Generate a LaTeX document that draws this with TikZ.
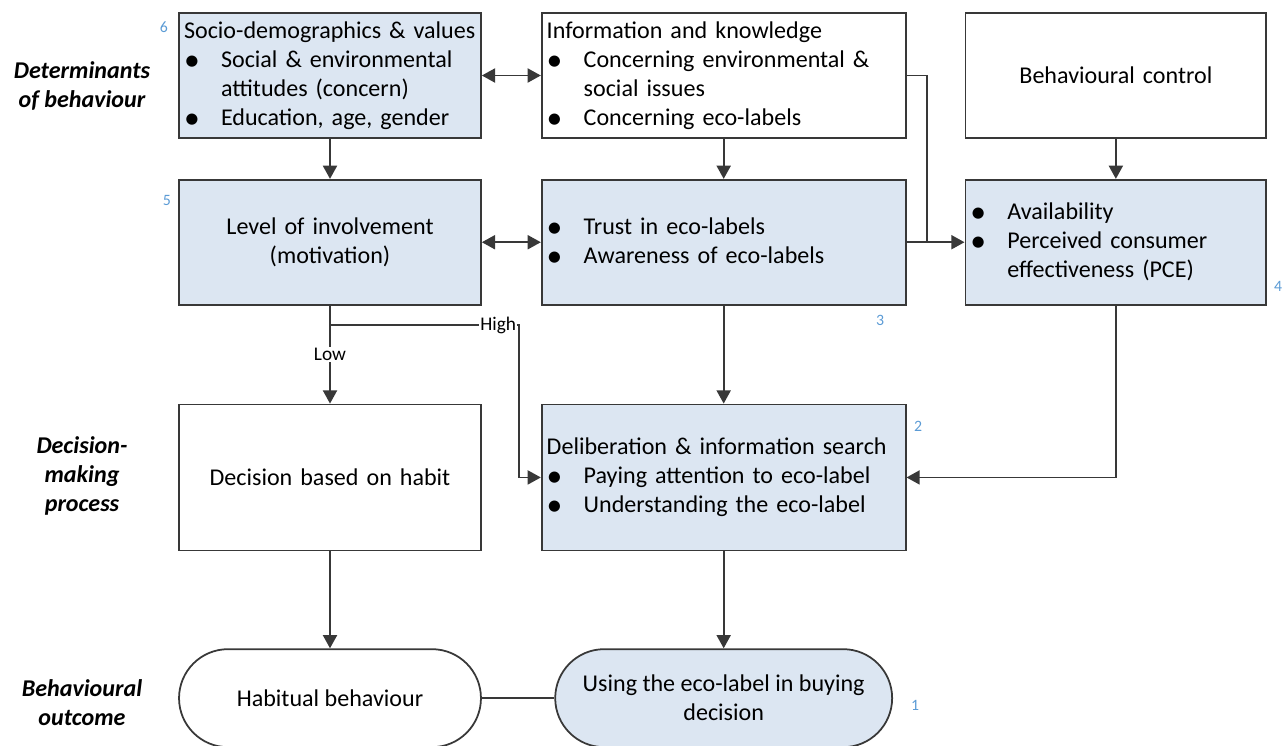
\documentclass[tikz,border=0pt]{standalone}
\usepackage{fontspec}
\setmainfont{Carlito}
\usepackage{xcolor}
\definecolor{boxblue}{RGB}{220,230,242}
\definecolor{edgegray}{RGB}{56,56,56}
\definecolor{numblue}{RGB}{91,155,213}
\usetikzlibrary{arrows.meta, positioning}
\newcommand{\itm}{\makebox[0.74cm][l]{\raisebox{-0.25ex}{\fontsize{18}{16}\selectfont\textbullet}}}
\newcommand{\ind}{\hspace*{0.74cm}}

\begin{document}
\begin{tikzpicture}[x=0.02cm, y=-0.02cm,
        base/.style={rectangle, draw=edgegray, line width=1pt, inner sep=0.1cm, minimum height=2.5cm, font=\fontsize{13.7}{16.5}\selectfont},
        bluebox/.style={base, fill=boxblue},
        whitebox/.style={base, fill=white},
        narrow/.style={text width=5.84cm},
        wide/.style={text width=7.08cm},
        endbox/.style={base, rounded corners=0.98cm, minimum height=1.96cm, align=center},
        sect/.style={font=\fontsize{13.7}{16.5}\selectfont\bfseries\itshape, align=center},
        num/.style={font=\fontsize{9}{9}\selectfont, text=numblue},
        lbl/.style={font=\fontsize{11}{11}\selectfont, fill=white, inner sep=0.5pt},
        line/.style={draw=edgegray, line width=1pt, -{Triangle[length=7.5pt, width=8pt]}},
        twoway/.style={line, {Triangle[length=7.5pt, width=8pt]}-{Triangle[length=7.5pt, width=8pt]}},
        plain/.style={draw=edgegray, line width=1pt}]

        \useasboundingbox (0,0) rectangle (1288,745);

        % row labels
        \node [sect] (lab1) at (82,86) {Determinants\\of behaviour};
        \node [sect] (lab2) at (82,476) {Decision-\\making\\process};
        \node [sect] (lab3) at (82,703) {Behavioural\\outcome};

        % determinants
        \node [bluebox, narrow, align=left] (socio) at (330,75.5) {Socio-demographics \& values\\\itm Social \& environmental\\\ind attitudes (concern)\\\itm Education, age, gender};
        \node [whitebox, wide, align=left, right=1.18cm of socio] (info) {Information and knowledge\\\itm Concerning environmental \&\\\ind social issues\\\itm Concerning eco-labels};
        \node [whitebox, text width=5.82cm, align=center, right=1.16cm of info] (control) {Behavioural control};
        \node [bluebox, narrow, align=center, below=0.8cm of socio] (level) {Level of involvement\\(motivation)};
        \node [bluebox, wide, align=left, below=0.8cm of info] (trust) {\itm Trust in eco-labels\\\itm Awareness of eco-labels};
        \node [bluebox, text width=5.82cm, align=left, below=0.8cm of control] (avail) {\itm Availability\\\itm Perceived consumer\\\ind effectiveness (PCE)};

        % decision making
        \node [whitebox, narrow, align=center, minimum height=2.92cm, below=1.96cm of level] (habit) {Decision based on habit};
        \node [bluebox, wide, align=left, minimum height=2.92cm, below=1.96cm of trust] (delib) {Deliberation \& information search\\\itm Paying attention to eco-label\\\itm Understanding the eco-label};

        % outcome
        \node [endbox, fill=white, minimum width=6.04cm, below=1.94cm of habit] (habitual) {Habitual behaviour};
        \node [endbox, fill=boxblue, minimum width=6.74cm, below=1.94cm of delib] (using) {Using the eco-label in buying\\decision};

        % numbers
        \node [num] (n6) at (164,27) {6};
        \node [num] (n5) at (167,200) {5};
        \node [num] (n3) at (880,320) {3};
        \node [num] (n4) at (1278,286) {4};
        \node [num] (n2) at (918,426) {2};
        \node [num] (n1) at (915,705) {1};

        \coordinate (join) at (927,241);
        \coordinate (split) at (330,325);
        \coordinate (hbend) at (519,325);

        \path [twoway] (socio) -- (info);
        \path [twoway] (level) -- (trust);
        \path [line] (socio) -- (level);
        \path [line] (info) -- (trust);
        \path [line] (control) -- (avail);
        \path [plain] (info.east) -| (join);
        \path [line] (trust) -- (avail);
        \path [line] (level) -- node [lbl] {Low} (habit);
        \path [line] (split) -- node [lbl, pos=0.89] {High} (hbend) |- (delib.west);
        \path [line] (trust) -- (delib);
        \path [line] (avail.south) |- (delib.east);
        \path [line] (habit) -- (habitual);
        \path [line] (delib) -- (using);
        \path [plain] (habitual) -- (using);
    \end{tikzpicture}
\end{document}
